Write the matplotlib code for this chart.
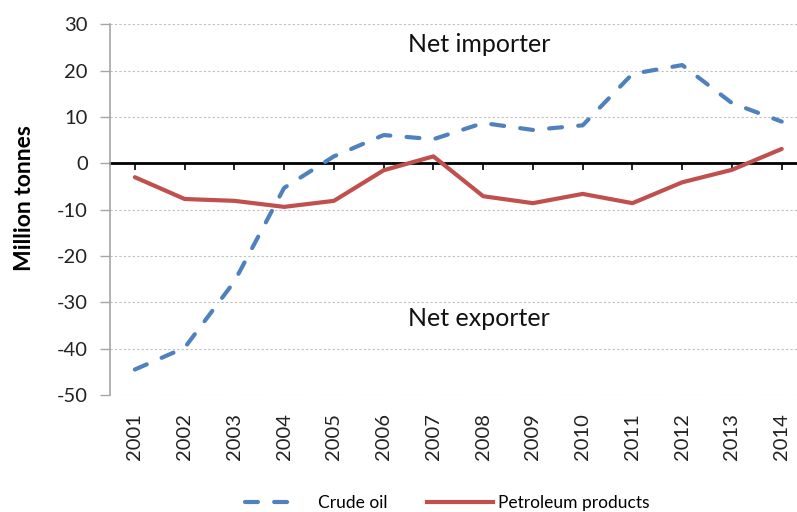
import matplotlib
matplotlib.use("Agg")
import matplotlib.pyplot as plt
from matplotlib.lines import Line2D

years = ["2001", "2002", "2003", "2004", "2005", "2006", "2007",
         "2008", "2009", "2010", "2011", "2012", "2013", "2014"]
crude_oil = [-44.5, -39.8, -25.5, -5.3, 1.5, 6.1, 5.2, 8.7, 7.2, 8.2, 19.3, 21.2, 13.0, 9.0]
petroleum_products = [-3.0, -7.7, -8.1, -9.4, -8.1, -1.5, 1.5, -7.1, -8.6, -6.6, -8.6, -4.1, -1.4, 3.1]
y_ticks = [30, 20, 10, 0, -10, -20, -30, -40, -50]

plt.rcParams['font.family'] = ['Lato', 'DejaVu Sans']
plt.rcParams['axes.unicode_minus'] = False

fig = plt.figure(figsize=(7.97, 5.12), dpi=100)
W, H = 797, 512
left, right, top, bottom = 110, 806.6, 24.3, 395
ax = fig.add_axes([left / W, 1 - bottom / H, (right - left) / W, (bottom - top) / H])

x = list(range(len(years)))
blue = "#4F81BD"
red = "#C0504D"
dash = (0, (3.1, 3.9))
ax.plot(x, crude_oil, color=blue, lw=3.0, linestyle=dash,
        dash_capstyle='round', zorder=3)
ax.plot(x, petroleum_products, color=red, lw=3.0, solid_capstyle='round',
        zorder=3)

ax.set_xlim(-0.5, len(years) - 0.5)
ax.set_ylim(-50, 30)
ax.set_yticks(y_ticks)
ax.yaxis.grid(True, color="#bfbfbf", linestyle=(0, (2, 2)), lw=0.8)
ax.set_axisbelow(True)

for s in ["top", "right"]:
    ax.spines[s].set_visible(False)
ax.spines["left"].set_color("#a6a6a6")
ax.spines["left"].set_linewidth(1.2)
ax.spines["bottom"].set_position(("data", 0))
ax.spines["bottom"].set_color("black")
ax.spines["bottom"].set_linewidth(2.0)
ax.spines["bottom"].set_zorder(2)

ax.set_xticks(x)
ax.tick_params(axis="x", direction="out", length=5, width=1.2, color="black",
               labelbottom=False)
ax.tick_params(axis="y", direction="out", length=7, width=1.0, color="#a6a6a6",
               labelsize=14.5, labelcolor="#222222", pad=9)

sec = ax.secondary_xaxis(0.0)
sec.set_xticks(x)
sec.set_xticklabels(years, rotation=90, fontsize=14.5, color="#222222")
sec.tick_params(length=0, pad=13)
sec.spines["bottom"].set_visible(False)

ax.set_ylabel("Million tonnes", fontsize=16.5, fontweight="bold")
ax.yaxis.set_label_coords((35 - left) / (right - left), 0.53)

fig.text(408 / W, 1 - 45 / H, "Net importer", ha="left", va="center",
         fontsize=18, color="#111111")
fig.text(408 / W, 1 - 318 / H, "Net exporter", ha="left", va="center",
         fontsize=18, color="#111111")

fs_leg = 12.5
em = fs_leg * 100 / 72
h1 = [Line2D([], [], color=blue, lw=3.0, linestyle=dash, dash_capstyle='round')]
leg1 = fig.legend(h1, ["Crude oil"], loc="center left",
                  bbox_to_anchor=(245 / W, 1 - 503 / H), frameon=False,
                  fontsize=fs_leg, handlelength=53 / em, handletextpad=20 / em,
                  borderpad=0, borderaxespad=0)
h2 = [Line2D([], [], color=red, lw=3.0)]
leg2 = fig.legend(h2, ["Petroleum products"], loc="center left",
                  bbox_to_anchor=(427 / W, 1 - 503 / H), frameon=False,
                  fontsize=fs_leg, handlelength=66 / em, handletextpad=5 / em,
                  borderpad=0, borderaxespad=0)

fig.savefig("out.png", dpi=100)
